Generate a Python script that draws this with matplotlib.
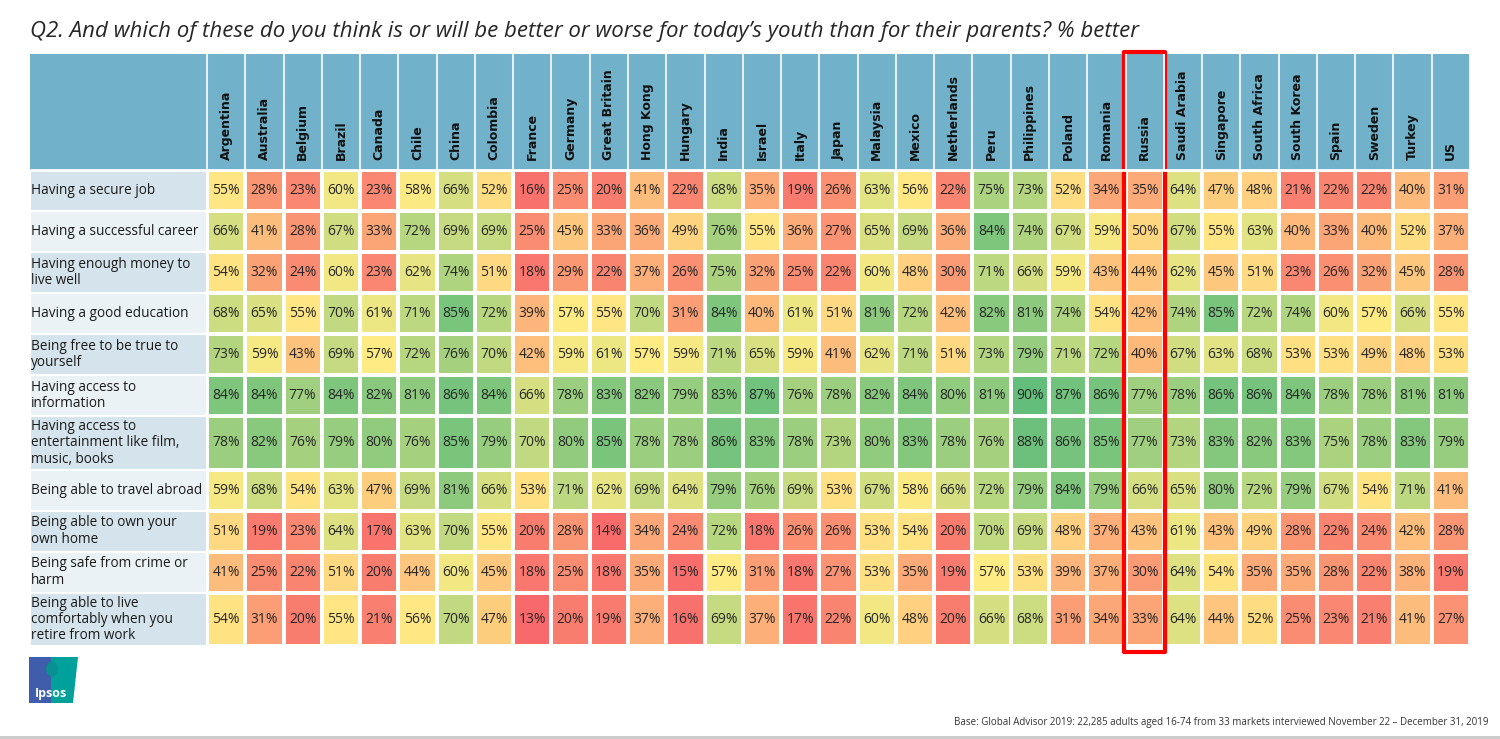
import numpy as np
import matplotlib.pyplot as plt
from matplotlib.colors import LinearSegmentedColormap, TwoSlopeNorm
from matplotlib.patches import Rectangle, Polygon, Ellipse
from matplotlib.lines import Line2D

countries = ["Argentina", "Australia", "Belgium", "Brazil", "Canada", "Chile", "China",
             "Colombia", "France", "Germany", "Great Britain", "Hong Kong", "Hungary",
             "India", "Israel", "Italy", "Japan", "Malaysia", "Mexico", "Netherlands",
             "Peru", "Philippines", "Poland", "Romania", "Russia", "Saudi Arabia",
             "Singapore", "South Africa", "South Korea", "Spain", "Sweden", "Turkey", "US"]

statements = ["Having a secure job",
              "Having a successful career",
              "Having enough money to\nlive well",
              "Having a good education",
              "Being free to be true to\nyourself",
              "Having access to\ninformation",
              "Having access to\nentertainment like film,\nmusic, books",
              "Being able to travel abroad",
              "Being able to own your\nown home",
              "Being safe from crime or\nharm",
              "Being able to live\ncomfortably when you\nretire from work"]

secure_job = [55, 28, 23, 60, 23, 58, 66, 52, 16, 25, 20, 41, 22, 68, 35, 19, 26, 63, 56, 22, 75, 73, 52, 34, 35, 64, 47, 48, 21, 22, 22, 40, 31]
career = [66, 41, 28, 67, 33, 72, 69, 69, 25, 45, 33, 36, 49, 76, 55, 36, 27, 65, 69, 36, 84, 74, 67, 59, 50, 67, 55, 63, 40, 33, 40, 52, 37]
money = [54, 32, 24, 60, 23, 62, 74, 51, 18, 29, 22, 37, 26, 75, 32, 25, 22, 60, 48, 30, 71, 66, 59, 43, 44, 62, 45, 51, 23, 26, 32, 45, 28]
education = [68, 65, 55, 70, 61, 71, 85, 72, 39, 57, 55, 70, 31, 84, 40, 61, 51, 81, 72, 42, 82, 81, 74, 54, 42, 74, 85, 72, 74, 60, 57, 66, 55]
be_yourself = [73, 59, 43, 69, 57, 72, 76, 70, 42, 59, 61, 57, 59, 71, 65, 59, 41, 62, 71, 51, 73, 79, 71, 72, 40, 67, 63, 68, 53, 53, 49, 48, 53]
information = [84, 84, 77, 84, 82, 81, 86, 84, 66, 78, 83, 82, 79, 83, 87, 76, 78, 82, 84, 80, 81, 90, 87, 86, 77, 78, 86, 86, 84, 78, 78, 81, 81]
entertainment = [78, 82, 76, 79, 80, 76, 85, 79, 70, 80, 85, 78, 78, 86, 83, 78, 73, 80, 83, 78, 76, 88, 86, 85, 77, 73, 83, 82, 83, 75, 78, 83, 79]
travel = [59, 68, 54, 63, 47, 69, 81, 66, 53, 71, 62, 69, 64, 79, 76, 69, 53, 67, 58, 66, 72, 79, 84, 79, 66, 65, 80, 72, 79, 67, 54, 71, 41]
own_home = [51, 19, 23, 64, 17, 63, 70, 55, 20, 28, 14, 34, 24, 72, 18, 26, 26, 53, 54, 20, 70, 69, 48, 37, 43, 61, 43, 49, 28, 22, 24, 42, 28]
safe = [41, 25, 22, 51, 20, 44, 60, 45, 18, 25, 18, 35, 15, 57, 31, 18, 27, 53, 35, 19, 57, 53, 39, 37, 30, 64, 54, 35, 35, 28, 22, 38, 19]
retire = [54, 31, 20, 55, 21, 56, 70, 47, 13, 20, 19, 37, 16, 69, 37, 17, 22, 60, 48, 20, 66, 68, 31, 34, 33, 64, 44, 52, 25, 23, 21, 41, 27]

highlight = "Russia"

title = "Q2. And which of these do you think is or will be better or worse for today\u2019s youth than for their parents? % better"
footnote = "Base: Global Advisor 2019: 22,285 adults aged 16-74 from 33 markets interviewed November 22 \u2013 December 31, 2019"

values = np.array([secure_job, career, money, education, be_yourself, information,
                   entertainment, travel, own_home, safe, retire])

plt.rcParams['font.family'] = ['Open Sans', 'DejaVu Sans']

W, H = 1500, 739
fig = plt.figure(figsize=(W / 100, H / 100), dpi=100)


def fx(px):
    return px / W


def fy(py):
    return 1 - py / H


# table geometry (pixels)
left_px, right_px = 30, 1470
top_px, head_bot_px, bottom_px = 54, 170, 646
data_left_px = 207

ax = fig.add_axes([fx(left_px), fy(bottom_px), (right_px - left_px) / W, (bottom_px - top_px) / H])
ax.axis('off')

n_c = len(countries)
col_px = (right_px - data_left_px) / n_c
label_w = (data_left_px - left_px) / col_px
n_lines = [s.count('\n') + 1 for s in statements]
row_h = np.array([1.3 if n > 2 else 1.0 for n in n_lines])
y_edges = np.concatenate([[0], np.cumsum(row_h)])
row_px = (bottom_px - head_bot_px) / y_edges[-1]
header_h = (head_bot_px - top_px) / row_px

# Excel-style 3 colour scale
cmap = LinearSegmentedColormap.from_list('rYg', ['#F8696B', '#FFEB84', '#63BE7B'])
norm = TwoSlopeNorm(vmin=values.min(), vcenter=np.percentile(values, 50), vmax=values.max())

ax.pcolormesh(np.arange(n_c + 1), y_edges, values, cmap=cmap, norm=norm,
              edgecolors='white', linewidth=1.5)

for i, s in enumerate(statements):
    yc = (y_edges[i] + y_edges[i + 1]) / 2
    ax.add_patch(Rectangle((-label_w, y_edges[i]), label_w, row_h[i],
                           facecolor='#D5E4EC' if i % 2 == 0 else '#EBF2F6',
                           edgecolor='white', linewidth=1.5))
    ax.text(-label_w + 0.02, yc, s, ha='left', va='center', fontsize=9.8,
            color='#1a1a1a', linespacing=1.12)
    for j in range(n_c):
        ax.text(j + 0.5, yc, f"{values[i, j]}%", ha='center', va='center',
                fontsize=10, color='#262626')

# header
ax.add_patch(Rectangle((-label_w, -header_h), label_w + n_c, header_h,
                       facecolor='#71B1CA', edgecolor='none'))
ax.vlines(np.arange(n_c + 1), -header_h, 0, color='#E3EFF4', linewidth=1.5)
ax.hlines(0, -label_w, n_c, color='white', linewidth=2)
for j, c in enumerate(countries):
    ax.text(j + 0.5, -10 / row_px, c, rotation=90, ha='center', va='bottom',
            fontsize=9, fontweight='bold', family='DejaVu Sans', color='#111111')

# highlight box
hi = countries.index(highlight)
ax.add_patch(Rectangle((hi - 0.03, -header_h - 2 / row_px), 1.06,
                       y_edges[-1] + header_h + 8 / row_px,
                       facecolor='none', edgecolor='#FF0000', linewidth=3,
                       joinstyle='round', clip_on=False))

ax.set_xlim(-label_w, n_c)
ax.set_ylim(y_edges[-1], -header_h)

# title and footer
fig.text(fx(30), fy(31), title, ha='left', va='center', fontsize=16,
         style='italic', color='#262626')
fig.text(fx(1488), fy(722), footnote, ha='right', va='center', fontsize=7,
         color='#333333')
fig.add_artist(Line2D([0, 1], [fy(737), fy(737)], color='#C8C8C8', linewidth=2))

# Ipsos logo
lax = fig.add_axes([fx(29), fy(703), 49 / W, 46 / H])
lax.axis('off')
lax.set_xlim(0, 49)
lax.set_ylim(0, 46)
lax.add_patch(Rectangle((0, 0), 22, 46, facecolor='#3F5DAA', edgecolor='none'))
lax.add_patch(Polygon([(22, 0), (44, 0), (49, 46), (22, 46)], closed=True,
                      facecolor='#00A19A', edgecolor='none'))
lax.add_patch(Ellipse((23, 34), 12, 15, facecolor='#0A8F93', edgecolor='none'))
lax.text(22, 10, "Ipsos", ha='center', va='center', fontsize=9, color='white',
         fontweight='bold')

fig.savefig("out.png", dpi=100)
